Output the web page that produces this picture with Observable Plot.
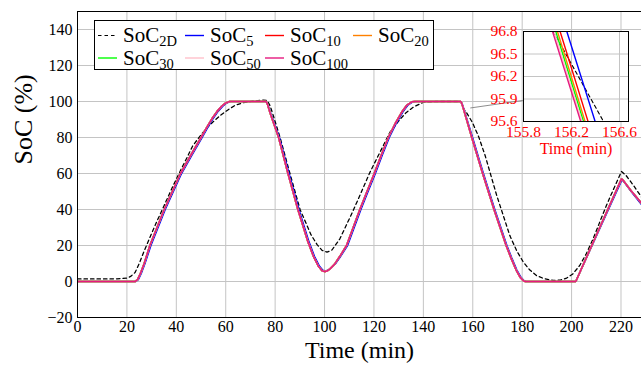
<!DOCTYPE html>
<html><head><meta charset="utf-8">
<script src="https://cdn.jsdelivr.net/npm/d3@7"></script>
<script src="https://cdn.jsdelivr.net/npm/@observablehq/plot@0.6"></script>
<style>
html,body{margin:0;padding:0;background:#fff;overflow:hidden;}
#wrap{position:relative;width:641px;height:368px;}
#inset{position:absolute;left:463px;top:21px;}
#legend{position:absolute;left:94px;top:20px;}
svg{display:block;}
</style></head>
<body><div id="wrap"><div id="main"></div><div id="inset"></div><div id="legend"></div></div>
<script>
// ---------- data ----------
const xTicks = [0,20,40,60,80,100,120,140,160,180,200,220];
const yTicks = [-20,0,20,40,60,80,100,120,140];
const insetXTicks = [155.8,156.2,156.6];
const insetYTicks = [95.6,95.9,96.2,96.5,96.8];
const seriesNames = ["2D","5","10","20","30","50","100"];

// SoC_2D (dashed reference)  [time (min), SoC (%)]
const soc2D = [[0,1.4],[10,1.4],[16,1.5],[20,1.9],[21.5,2.8],[23.3,5],[25,10],[26.7,16],[29.3,24.5],[32,33],[35,42],[38.3,52],[41.7,61.7],[44.2,68.5],[46.7,75.5],[50,81.5],[53.3,86.7],[57.6,92],[60,94.5],[61.6,96],[64,98],[67,99.3],[71,100.2],[75.2,100.8],[76.8,100.5],[78,97.5],[79.3,92],[82,80],[86,60],[90.1,40],[94.5,26],[97,20.5],[99,17.3],[101,16.3],[103,17.5],[106.2,23.7],[111.6,39.4],[118.4,60.7],[122.5,72],[126.5,83],[130.5,90],[133,93.8],[136,96.9],[140,99.6],[145,100],[154.8,100],[155.5,99],[156.05,96.8],[156.47,95.6],[157.6,93.5],[160,88],[162.5,80],[165,70],[169.7,47.8],[175,25.5],[177.8,17],[180.5,10.7],[183,6.5],[185.8,3.3],[189,1.5],[192.6,0.6],[195.5,0.8],[198,1.9],[200.5,4.2],[203.3,8.9],[206,15.5],[208.7,23.7],[211.4,33],[214.1,42.2],[217.2,52],[220.2,61.1],[222,59],[225,53.5],[228.3,46.9]];
// SoC_5
const soc5 = [[0,0],[23.5,0],[24.6,1],[25.8,4.5],[27.3,10],[29.7,20],[32.6,30],[35.5,40],[38.8,50],[42.1,60],[46.2,70],[50.4,80],[52.9,86],[55.1,91],[56.9,94.5],[58.7,97.3],[60.4,99.2],[61.9,100],[76.3,100],[77,98.5],[78.2,93.5],[81.7,80],[85.6,60],[89.6,40],[93.7,22],[95.9,14],[97.8,8.8],[99.3,6.3],[100.3,5.8],[101.3,6.2],[102.6,7.4],[104.4,9.9],[106.6,14.2],[109.3,20],[112,30],[114.7,40],[117.6,50],[120.4,59.5],[123.3,70],[126.2,80],[128.9,87.5],[131.6,94],[133.6,97.8],[135.7,99.8],[136.9,100],[155.2,100],[155.7,98.7],[156.22,96.5],[159.9,80],[164.3,60],[168.9,40],[173.8,20],[175.8,13],[177.8,6.5],[179.5,2.3],[180.8,0.4],[181.5,0],[201.7,0],[211.1,28.5],[220.4,56.6],[221.2,55.4],[224.2,49.8],[228.3,42.8]];
// SoC_10 ... SoC_100 coincide at the scale of the main axes
const socN = [[0,0],[23.3,0],[24.3,1],[25.5,4.5],[27,10],[29.3,20],[32.2,30],[35.1,40],[38.4,50],[41.7,60],[45.8,70],[50,80],[52.5,86],[54.7,91],[56.5,94.5],[58.3,97.3],[60,99.2],[61.5,100],[76.3,100],[76.9,98.5],[78,93.5],[81.4,80],[85.2,60],[89.2,40],[93.3,22],[95.5,14],[97.5,8.5],[99,6],[100,5.5],[101,5.8],[102.2,7],[104,9.5],[106.2,14],[108.9,20],[111.6,30],[114.3,40],[117.2,50],[120,59.5],[122.9,70],[125.8,80],[128.5,87.5],[131.2,94],[133.2,97.8],[135.3,99.8],[136.5,100],[155.2,100],[155.6,98.7],[156.1,96.5],[159.6,80],[164,60],[168.6,40],[173.5,20],[175.5,13],[177.5,6.5],[179.2,2.3],[180.5,0.4],[181.2,0],[201.7,0],[210.9,28.5],[220.2,57],[221,56],[224,50.5],[228.3,43.5]];
const mainSeries = [soc2D, soc5, socN, socN, socN, socN, socN];

// zoomed window (inset) readings
const inset2D  = [[156.048,96.8],[156.467,95.6]];
const inset5   = [[156.161,96.8],[156.397,95.6]];
const inset10  = [[156.105,96.8],[156.338,95.6]];
const inset20  = [[156.083,96.8],[156.313,95.6]];
const inset30  = [[156.069,96.8],[156.300,95.6]];
const inset50  = [[156.055,96.8],[156.288,95.6]];
const inset100 = [[156.042,96.8],[156.277,95.6]];
const insetSeries = [inset2D, inset5, inset10, inset20, inset30, inset50, inset100];

// connector from zoomed spot to inset, in main-axis units
const spyLink = [{x1:159, y1:96.4, x2:180.3, y2:100.6}];

// ---------- styles ----------
const colors = {"2D":"#000000","5":"#0000ff","10":"#ff0000","20":"#ff8000","30":"#00ff00","50":"#ffc0cb","100":"#e6197f"};
const FONT = "'Liberation Serif','Times New Roman',serif";
const GRID = "#c4c4c4";
const minusFmt = d => d < 0 ? "\u2212" + Math.abs(d) : String(d);
const rows = a => a.map(([t, v]) => ({t, v}));

function seriesMarks(list, lw) {
  return list.map((arr, i) => {
    const name = seriesNames[i];
    return Plot.line(rows(arr), {
      x: "t", y: "v", stroke: colors[name],
      strokeWidth: name === "2D" ? lw * 0.8 : lw,
      strokeDasharray: name === "2D" ? "3.5,3" : null,
      clip: true
    });
  });
}

// ---------- main chart ----------
const main = Plot.plot({
  width: 641, height: 368,
  marginLeft: 77, marginRight: 0, marginTop: 11, marginBottom: 51,
  style: {fontFamily: FONT, fontSize: "16px", background: "transparent", color: "#000"},
  x: {domain: [0, 228.3], ticks: xTicks, tickSize: 0, tickPadding: 3, label: null, tickFormat: minusFmt},
  y: {domain: [-20, 150], ticks: yTicks, tickSize: 0, tickPadding: 5, label: null, tickFormat: minusFmt},
  marks: [
    Plot.ruleX(xTicks, {stroke: GRID, strokeWidth: 1}),
    Plot.ruleY(yTicks, {stroke: GRID, strokeWidth: 1}),
    ...seriesMarks(mainSeries, 1.6),
    Plot.link(spyLink, {x1: "x1", y1: "y1", x2: "x2", y2: "y2", stroke: "#808080", strokeWidth: 0.9}),
    Plot.ruleX([0], {stroke: "#000", strokeWidth: 1}),
    Plot.ruleY([-20, 150], {stroke: "#000", strokeWidth: 1}),
    Plot.text(["Time (min)"], {text: d => d, frameAnchor: "bottom", dy: 40, fontSize: 24, fill: "#000"}),
    Plot.text(["SoC (%)"], {text: d => d, frameAnchor: "left", dx: -54, rotate: -90, fontSize: 26, fill: "#000"})
  ]
});
document.getElementById("main").appendChild(main);

// ---------- inset ----------
const inset = Plot.plot({
  width: 178, height: 144,
  marginLeft: 60, marginRight: 13, marginTop: 10, marginBottom: 44,
  style: {fontFamily: FONT, fontSize: "15.5px", background: "transparent", color: "#ff0000"},
  x: {domain: [155.8, 156.675], ticks: insetXTicks, tickSize: 0, tickPadding: 4, label: null, tickFormat: d3.format(".1f")},
  y: {domain: [95.6, 96.8], ticks: insetYTicks, tickSize: 0, tickPadding: 6, label: null, tickFormat: d3.format(".1f")},
  marks: [
    Plot.frame({fill: "white", stroke: null}),
    Plot.ruleX(insetXTicks, {stroke: GRID, strokeWidth: 1}),
    Plot.ruleY(insetYTicks, {stroke: GRID, strokeWidth: 1}),
    ...seriesMarks(insetSeries, 1.4),
    Plot.frame({stroke: "#000", strokeWidth: 1}),
    Plot.text(["Time (min)"], {text: d => d, frameAnchor: "bottom", dy: 32, fontSize: 16, fill: "#ff0000"})
  ]
});
document.getElementById("inset").appendChild(inset);

// ---------- legend ----------
const lg = d3.select("#legend").append("svg").attr("width", 341).attr("height", 58);
lg.append("rect").attr("x", 0.5).attr("y", 0.5).attr("width", 339).attr("height", 49)
  .attr("fill", "#fff").attr("stroke", "#000").attr("stroke-width", 1);
const colX = [4, 91, 171, 259];
const rowY = [22, 44.5];
seriesNames.forEach((name, i) => {
  const c = i < 4 ? i : i - 4, r = i < 4 ? 0 : 1;
  const x0 = colX[c], base = rowY[r];
  lg.append("line").attr("x1", x0).attr("x2", x0 + 19).attr("y1", base - 6.5).attr("y2", base - 6.5)
    .attr("stroke", colors[name]).attr("stroke-width", name === "2D" ? 1.2 : 1.4)
    .attr("stroke-dasharray", name === "2D" ? "3.5,3" : null);
  const t = lg.append("text").attr("x", x0 + 25).attr("y", base)
    .attr("font-family", FONT).attr("font-size", 21).attr("fill", "#000");
  t.append("tspan").text("SoC");
  t.append("tspan").attr("font-size", 14.5).attr("dy", 4).text(name);
});
</script>
</body></html>
